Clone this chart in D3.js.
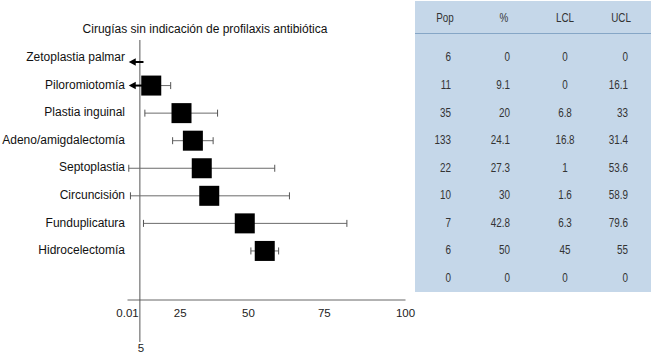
<!DOCTYPE html>
<html>
<head>
<meta charset="utf-8">
<script src="https://cdn.jsdelivr.net/npm/d3@7"></script>
<style>
  body { margin: 0; background: #fff; }
  text { font-family: 'Liberation Sans', Arial, sans-serif; }
</style>
</head>
<body>
<div id="viz"></div>
<script>
// Données
const categories = ['Zetoplastia palmar', 'Piloromiotomía', 'Plastia inguinal', 'Adeno/amigdalectomía',
  'Septoplastia', 'Circuncisión', 'Funduplicatura', 'Hidrocelectomía', ''];
const pop = [6, 11, 35, 133, 22, 10, 7, 6, 0];
const pct = [0, 9.1, 20, 24.1, 27.3, 30, 42.8, 50, 0];
const lcl = [0, 0, 6.8, 16.8, 1, 1.6, 6.3, 45, 0];
const ucl = [0, 16.1, 33, 31.4, 53.6, 58.9, 79.6, 55, 0];
const xTickValues = [0.01, 25, 50, 75, 100];
const refValue = 5;
const tableHeaders = ['Pop', '%', 'LCL', 'UCL'];
const title = 'Cirugías sin indicación de profilaxis antibiótica';

const config = {
  width: 651,
  height: 357,
  plot: { left: 126, right: 403.5, top: 40, axisY: 299.5, refBottom: 342 },
  rows: { first: 58, last: 278.5 },
  table: { x: 415, y: 1, bottom: 292, headerY: 18.5, lineY: 33.5 },
  squareSize: 20,
  capHeight: 7,
  narrow: 0.76
}

const rows = categories.map((c, i) => ({
  label: c, pop: pop[i], pct: pct[i], lcl: lcl[i], ucl: ucl[i], idx: i
}));

const svg = d3.select('#viz').append('svg')
  .attr('width', config.width)
  .attr('height', config.height);

// Échelles
const xScale = d3.scaleLinear().domain([0, 100]).range([config.plot.left, config.plot.right]);
const xAxisScale = d3.scalePow().exponent(1.2).domain([0, 100]).range([127, 405]);
const yScale = d3.scalePoint().domain(d3.range(rows.length)).range([config.rows.first, config.rows.last]);

drawTable(svg);
drawAxes(svg);
drawErrorBars(svg);
drawArrows(svg);
drawSquares(svg);
drawLabels(svg);

/**
 * Draws the blue table with Pop, %, LCL, UCL
 * (texte condensé : police étirée horizontalement)
 */
function drawTable (svg) {
  const t = config.table;
  const g = svg.append('g').attr('class', 'tbl');
  g.append('rect')
    .attr('x', t.x).attr('y', t.y)
    .attr('width', config.width - t.x).attr('height', t.bottom - t.y)
    .attr('fill', '#c5d7e9');
  g.append('line')
    .attr('x1', t.x).attr('x2', config.width)
    .attr('y1', t.lineY).attr('y2', t.lineY)
    .attr('stroke', '#86a6c6').attr('stroke-width', 1.2);

  // colonnes : position et alignement
  const cols = [
    { x: 451, anchor: 'end', hx: 445, key: 'pop' },
    { x: 510, anchor: 'end', hx: 504, key: 'pct' },
    { x: 565, anchor: 'middle', hx: 565, key: 'lcl' },
    { x: 628, anchor: 'end', hx: 621, key: 'ucl' }
  ];

  g.selectAll('.hdr')
    .data(tableHeaders)
    .enter()
    .append('text')
    .attr('class', 'hdr')
    .attr('transform', (d, i) => `translate(${cols[i].hx},${t.headerY}) scale(${config.narrow},1)`)
    .attr('text-anchor', 'middle')
    .attr('dominant-baseline', 'middle')
    .attr('font-size', 13)
    .attr('fill', '#333')
    .text(d => d);

  cols.forEach(c => {
    g.selectAll('.c-' + c.key)
      .data(rows)
      .enter()
      .append('text')
      .attr('class', 'c-' + c.key)
      .attr('transform', d => `translate(${c.x},${yScale(d.idx)}) scale(${config.narrow},1)`)
      .attr('text-anchor', c.anchor)
      .attr('dominant-baseline', 'middle')
      .attr('font-size', 13)
      .attr('fill', '#333')
      .text(d => d[c.key]);
  });
}

function drawAxes (svg) {
  const p = config.plot;
  const axis = svg.append('g')
    .attr('class', 'x axis')
    .attr('transform', 'translate(0,' + p.axisY + ')')
    .call(d3.axisBottom(xAxisScale).tickValues(xTickValues).tickSize(0).tickSizeOuter(0)
      .tickPadding(9).tickFormat(d => String(d)));
  axis.select('.domain').attr('stroke', '#666');
  axis.selectAll('text')
    .attr('font-size', 11.5)
    .attr('font-family', "'Liberation Sans', Arial, sans-serif")
    .attr('fill', '#222');

  // ligne de référence
  svg.append('line')
    .attr('x1', xScale(refValue)).attr('x2', xScale(refValue))
    .attr('y1', p.top).attr('y2', p.refBottom)
    .attr('stroke', '#555').attr('stroke-width', 1);
  svg.append('text')
    .attr('x', xScale(refValue) + 1)
    .attr('y', p.refBottom + 10)
    .attr('text-anchor', 'middle')
    .attr('font-size', 11.5)
    .attr('fill', '#222')
    .text(refValue);
}

function drawErrorBars (svg) {
  const g = svg.append('g').attr('class', 'errors');
  const data = rows.filter(d => d.pop > 0 && d.ucl > 0);
  const h = config.capHeight / 2;

  g.selectAll('.bar')
    .data(data)
    .enter()
    .append('line')
    .attr('x1', d => xScale(d.lcl > 0 ? d.lcl : d.pct))
    .attr('x2', d => xScale(d.ucl))
    .attr('y1', d => yScale(d.idx))
    .attr('y2', d => yScale(d.idx))
    .attr('stroke', '#6b6b6b').attr('stroke-width', 1);

  // embouts
  const caps = [];
  data.forEach(d => {
    if (d.lcl > 0) caps.push({ v: d.lcl, idx: d.idx });
    caps.push({ v: d.ucl, idx: d.idx });
  });
  g.selectAll('.cap')
    .data(caps)
    .enter()
    .append('line')
    .attr('x1', d => xScale(d.v)).attr('x2', d => xScale(d.v))
    .attr('y1', d => yScale(d.idx) - h).attr('y2', d => yScale(d.idx) + h)
    .attr('stroke', '#555').attr('stroke-width', 1);
}

// Flèches pour les limites inférieures à 0
function drawArrows (svg) {
  const g = svg.append('g').attr('class', 'arrows');
  const data = rows.filter(d => d.pop > 0 && d.lcl === 0);
  const tip = xScale(1), start = xScale(6.3);
  g.selectAll('line')
    .data(data)
    .enter()
    .append('line')
    .attr('x1', tip + 5).attr('x2', start)
    .attr('y1', d => yScale(d.idx) + (d.pct === 0 ? 4 : 0))
    .attr('y2', d => yScale(d.idx) + (d.pct === 0 ? 4 : 0))
    .attr('stroke', '#000').attr('stroke-width', 2);
  g.selectAll('path')
    .data(data)
    .enter()
    .append('path')
    .attr('d', d => {
      const y = yScale(d.idx) + (d.pct === 0 ? 4 : 0);
      return `M${tip},${y}L${tip + 7},${y - 3.8}L${tip + 7},${y + 3.8}Z`;
    })
    .attr('fill', '#000');
}

function drawSquares (svg) {
  const s = config.squareSize;
  svg.append('g').attr('class', 'squares')
    .selectAll('rect')
    .data(rows.filter(d => d.pct > 0))
    .enter()
    .append('rect')
    .attr('x', d => xScale(d.pct) - s / 2)
    .attr('y', d => yScale(d.idx) - s / 2)
    .attr('width', s)
    .attr('height', s)
    .attr('fill', '#000');
}

function drawLabels (svg) {
  svg.append('text')
    .attr('x', 205)
    .attr('y', 33)
    .attr('text-anchor', 'middle')
    .attr('font-size', 12)
    .attr('fill', '#111')
    .text(title);

  svg.append('g').attr('class', 'cats')
    .selectAll('text')
    .data(rows.filter(d => d.label !== ''))
    .enter()
    .append('text')
    .attr('x', 125)
    .attr('y', d => yScale(d.idx))
    .attr('text-anchor', 'end')
    .attr('dominant-baseline', 'middle')
    .attr('font-size', 12)
    .attr('fill', '#111')
    .text(d => d.label);
}
</script>
</body>
</html>
